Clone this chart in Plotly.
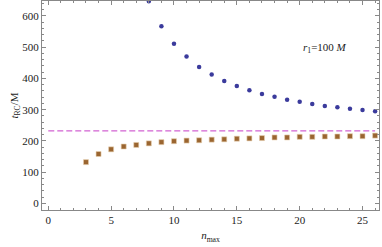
import plotly.graph_objects as go

n_blue = list(range(8, 27))
t_blue = [647, 567, 511, 470, 437, 413, 392, 376, 362, 350, 341, 332, 325, 318, 312, 308, 303, 299, 295]

n_brown = list(range(3, 27))
t_brown = [132, 158, 173, 182, 187, 192, 196, 199, 201, 202, 204, 205, 207, 208, 209, 211, 211, 213, 213, 214, 214, 215, 215, 217]

n_line = [0, 26]
t_line = [232, 232]

fig = go.Figure()
fig.add_trace(go.Scatter(x=n_line, y=t_line, mode="lines",
                         line=dict(color="#c63cc6", width=1, dash="6px,3px"),
                         hoverinfo="skip", showlegend=False))
fig.add_trace(go.Scatter(x=n_brown, y=t_brown, mode="markers",
                         marker=dict(symbol="square", size=5, color="#9a6530",
                                     line=dict(width=0.6, color="#e8d0b0")),
                         showlegend=False))
fig.add_trace(go.Scatter(x=n_blue, y=t_blue, mode="markers",
                         marker=dict(symbol="circle", size=4.5, color="#3b3b9c"),
                         showlegend=False, cliponaxis=True))

axis_common = dict(showline=True, linecolor="#888888", linewidth=1, mirror="ticks",
                   ticks="inside", tickcolor="#888888", ticklen=4, tickwidth=1,
                   showgrid=False, zeroline=False, automargin=False,
                   tickfont=dict(family="Liberation Serif", size=11, color="#222222"))

fig.update_xaxes(range=[-0.5, 26.31], tick0=0, dtick=5,
                 minor=dict(ticks="inside", dtick=1, ticklen=2, tickcolor="#888888", showgrid=False),
                 title=dict(text="<i>n</i><sub>max</sub>", standoff=6,
                            font=dict(family="Liberation Serif", size=11, color="#222222")),
                 **axis_common)
fig.update_yaxes(range=[-21.3, 648], tick0=0, dtick=100,
                 minor=dict(ticks="inside", dtick=20, ticklen=2, tickcolor="#888888", showgrid=False),
                 title=dict(text="<i>t</i><sub>RC</sub>/M", standoff=1,
                            font=dict(family="Liberation Serif", size=11, color="#222222")),
                 **axis_common)

fig.add_annotation(x=22, y=499, xref="x", yref="y", showarrow=False,
                   text="<i>r</i><sub>1</sub>=100 <i>M</i>",
                   font=dict(family="Liberation Serif", size=11, color="#222222"))

fig.update_layout(width=382, height=247, margin=dict(l=42, r=3, t=1, b=37),
                  plot_bgcolor="white", paper_bgcolor="white")

fig.write_html("out.html", config={"displayModeBar": False},
               post_script="document.body.style.margin='0';document.body.style.overflow='hidden';")
